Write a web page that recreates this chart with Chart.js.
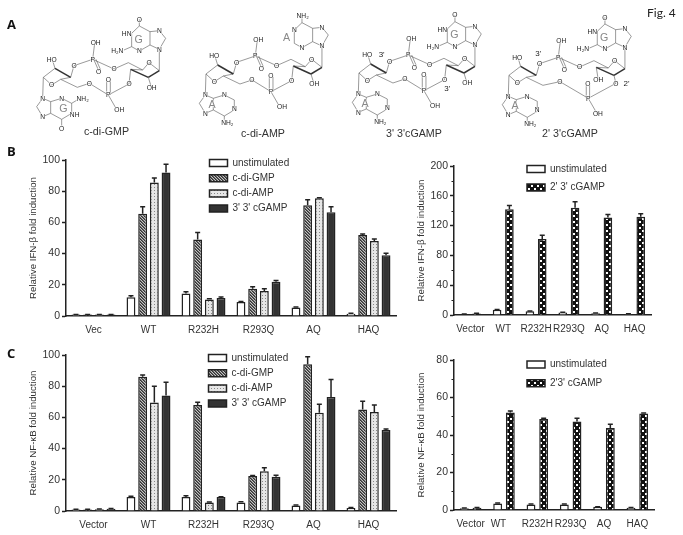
<!DOCTYPE html>
<html lang="en">

<head>
	<title>Fig. 4</title>
	<meta charset="utf-8">
	<script src="https://cdn.jsdelivr.net/npm/chart.js"></script>
	<style>
		html, body { margin: 0; background: #fff; }
		#page { position: relative; width: 683px; height: 535px; overflow: hidden; font-family: "Liberation Sans", sans-serif; filter: blur(0.3px); }
		#page canvas, #mols { position: absolute; }
		.tag { position: absolute; font: bold 13px "Open Sans", sans-serif; color: #111; }
	</style>
</head>

<body>
	<div id="page">
		<svg id="mols" width="683" height="140" style="left:0;top:0"></svg>
		<div class="tag" style="left:7px;top:15px">A</div>
		<div class="tag" style="left:7px;top:142px">B</div>
		<div class="tag" style="left:7px;top:344px">C</div>
		<div style="position:absolute;left:647px;top:5px;font:12px Lato,sans-serif;color:#222">Fig. 4</div>
		<canvas id="ifnLeft"></canvas>
		<canvas id="ifnRight"></canvas>
		<canvas id="nfLeft"></canvas>
		<canvas id="nfRight"></canvas>
	</div>

	<script type="text/javascript">
		const ifnCats = ["Vec", "WT", "R232H", "R293Q", "AQ", "HAQ"]
		const nfCats = ["Vector", "WT", "R232H", "R293Q", "AQ", "HAQ"]

		// panel B left
		const ifnUnstim = [0.9, 12, 14.5, 9, 5.5, 1.5]
		const ifnUnstimErr = [0.1, 1, 1, 0.3, 0.2, 0.2]
		const ifnGmp = [0.9, 65.5, 49, 17.5, 71, 52]
		const ifnGmpErr = [0.1, 4.5, 4.5, 1.2, 3.5, 0.5]
		const ifnAmp = [0.9, 85.5, 10.5, 16, 75.5, 48]
		const ifnAmpErr = [0.1, 3, 0.5, 1.5, 0.3, 1.3]
		const ifnGamp33 = [0.9, 92, 11.5, 22, 66.5, 39]
		const ifnGamp33Err = [0.1, 5.3, 0.7, 0.8, 3.5, 1.2]

		// panel B right
		const ifn2Unstim = [1, 7, 5, 3.5, 2.5, 1.5]
		const ifn2UnstimErr = [0.2, 0.5, 0.5, 0.3, 0.3, 0.2]
		const ifn2Gamp23 = [2, 142, 102, 144, 131, 132]
		const ifn2Gamp23Err = [0.3, 5, 5, 8, 4, 4]

		// panel C left
		const nfUnstim = [1, 9, 9, 5.5, 3.5, 2]
		const nfUnstimErr = [0.1, 0.4, 0.8, 0.4, 0.4, 0.3]
		const nfGmp = [1, 86, 68, 22.5, 94, 65]
		const nfGmpErr = [0.1, 1.2, 1.7, 0.3, 4.8, 5.3]
		const nfAmp = [1.2, 69.5, 5.5, 25.5, 63, 63.5]
		const nfAmpErr = [0.1, 10.5, 0.2, 2.3, 5.5, 4.5]
		const nfGamp33 = [1.5, 74, 9, 22, 73, 52]
		const nfGamp33Err = [0.1, 8.5, 0.1, 0.9, 11.3, 0.6]

		// panel C right
		const nf2Unstim = [1, 3.5, 3, 3, 1.7, 1.2]
		const nf2UnstimErr = [0.1, 0.2, 0.2, 0.2, 0.1, 0.1]
		const nf2Gamp23 = [1.2, 52, 48.5, 47.2, 43.8, 51.5]
		const nf2Gamp23Err = [0.1, 0.8, 0.4, 1.8, 2, 0.2]

		const ink = "#222"
		const textInk = "#333"

		Chart.defaults.font.family = "'Liberation Sans', Arial, sans-serif"

		function pattern(size, draw) {
			let c = document.createElement("canvas")
			c.width = size
			c.height = size
			draw(c.getContext("2d"))
			return c.getContext("2d").createPattern(c, "repeat")
		}

		const stripes = pattern(3, g => {
			g.fillStyle = "#c4c4c4"
			g.fillRect(0, 0, 3, 3)
			g.fillStyle = "#333"
			for (let i = 0; i < 3; i++) g.fillRect(i, i, 1, 1)
			g.fillStyle = "#666"
			for (let i = 0; i < 3; i++) g.fillRect((i + 1) % 3, i, 1, 1)
		})
		const dots = pattern(3, g => {
			g.fillStyle = "#e6e6e6"
			g.fillRect(0, 0, 3, 3)
			g.fillStyle = "#888"
			g.fillRect(0, 0, 1, 1)
		})
		const checks = pattern(6, g => {
			g.fillStyle = "#111"
			g.fillRect(0, 0, 6, 6)
			g.fillStyle = "#fff"
			g.fillRect(1, 1, 2, 2)
			g.fillRect(4, 4, 2, 2)
		})

		function series(label, values, errors, fill) {
			return { label: label, data: values, errors: errors, backgroundColor: fill, borderColor: ink, borderWidth: 1.5 }
		}

		// error bars, up only, read through the y scale
		const errorBars = {
			id: "errorBars",
			afterDatasetsDraw(chart) {
				let g = chart.ctx, y = chart.scales.y
				g.save()
				g.strokeStyle = ink
				g.lineWidth = 1.5
				chart.data.datasets.forEach((d, n) => {
					chart.getDatasetMeta(n).data.forEach((bar, i) => {
						let top = y.getPixelForValue(d.data[i] + d.errors[i])
						g.beginPath()
						g.moveTo(bar.x, bar.y)
						g.lineTo(bar.x, top)
						g.moveTo(bar.x - 2.5, top)
						g.lineTo(bar.x + 2.5, top)
						g.stroke()
					})
				})
				g.restore()
			}
		}

		const minorTicks = {
			id: "minorTicks",
			afterDraw(chart, args, opts) {
				if (!opts.step) return
				let g = chart.ctx, y = chart.scales.y
				g.save()
				g.strokeStyle = ink
				g.lineWidth = 1
				for (let v = opts.step; v < y.max; v += opts.step * 2) {
					let p = Math.round(y.getPixelForValue(v)) + 0.5
					g.beginPath()
					g.moveTo(y.right - 2.5, p)
					g.lineTo(y.right, p)
					g.stroke()
				}
				g.restore()
			}
		}

		// the legend sits where the figure has it, not where chart.js wants it
		const legendSpot = {
			id: "legendSpot",
			afterLayout(chart, args, opts) {
				let l = chart.legend, h = l.bottom - l.top
				l.left = opts.x
				l.top = opts.y
				l.bottom = opts.y + h
			}
		}

		function panel(id, p) {
			let canvas = document.getElementById(id)
			let pad = 32 + 6, left = p.plot[0] - pad, top = p.plot[1] - 12
			let width = p.plot[2] - left + 6, height = p.plot[3] - top + 24
			canvas.width = width
			canvas.height = height
			canvas.style.left = left + "px"
			canvas.style.top = top + "px"
			let cats = p.cats
			return new Chart(canvas, {
				type: "bar",
				data: { labels: cats, datasets: p.datasets },
				options: {
					responsive: false,
					animation: false,
					events: [],
					layout: { padding: { top: 12, right: 6, left: 0, bottom: 0 } },
					datasets: { bar: { categoryPercentage: p.cat, barPercentage: p.bar } },
					plugins: {
						title: { display: false },
						tooltip: { enabled: false },
						minorTicks: { step: p.minor },
						legendSpot: { x: p.legend[0] - p.gap - left, y: p.legend[1] - p.gap - 5 - top },
						legend: {
							position: "chartArea",
							align: "start",
							labels: { boxWidth: 18, boxHeight: 7, padding: p.gap, color: textInk, font: { size: 10 } }
						}
					},
					scales: {
						x: {
							grid: { display: false, drawTicks: false },
							border: { color: ink, width: 1.5 },
							ticks: {
								color: textInk,
								font: { size: 10 },
								padding: 8.5,
								autoSkip: false,
								maxRotation: 0,
								callback: (v, i) => cats[i] + (p.tickPad && p.tickPad[i] ? p.tickPad[i] : "")
							},
							afterFit: s => { s.height = 24 }
						},
						y: {
							min: 0,
							max: p.max,
							grid: { drawOnChartArea: false, tickLength: 4, tickWidth: 1.5, tickColor: ink },
							border: { color: ink, width: 1.5 },
							ticks: { stepSize: p.step, color: textInk, font: { size: 10.5 }, padding: 2 },
							title: { display: true, text: p.title, color: textInk, font: { size: 9.7 }, padding: 0 },
							afterFit: s => { s.width = pad }
						}
					}
				},
				plugins: [errorBars, minorTicks, legendSpot]
			})
		}

		panel("ifnLeft", {
			cats: ifnCats, plot: [65.5, 160, 395.5, 316.5], max: 100, step: 20, cat: 0.85, bar: 0.76,
			title: "Relative IFN-β fold induction", legend: [209, 163], gap: 5.2,
			datasets: [
				series("unstimulated", ifnUnstim, ifnUnstimErr, "#fff"),
				series("c-di-GMP", ifnGmp, ifnGmpErr, stripes),
				series("c-di-AMP", ifnAmp, ifnAmpErr, dots),
				series("3' 3' cGAMP", ifnGamp33, ifnGamp33Err, "#333")
			]
		})
		panel("ifnRight", {
			cats: nfCats, plot: [454, 166, 651, 315.5], max: 200, step: 40, minor: 20, cat: 0.75, bar: 0.7,
			title: "Relative IFN-β fold induction", legend: [527, 169], gap: 8.4,
			datasets: [
				series("unstimulated", ifn2Unstim, ifn2UnstimErr, "#fff"),
				series("2' 3' cGAMP", ifn2Gamp23, ifn2Gamp23Err, checks)
			]
		})
		panel("nfLeft", {
			cats: nfCats, plot: [65.5, 355, 395.5, 511.5], max: 100, step: 20, cat: 0.85, bar: 0.76,
			title: "Relative NF-κB fold induction", legend: [208, 358], gap: 5.2,
			datasets: [
				series("unstimulated", nfUnstim, nfUnstimErr, "#fff"),
				series("c-di-GMP", nfGmp, nfGmpErr, stripes),
				series("c-di-AMP", nfAmp, nfAmpErr, dots),
				series("3' 3' cGAMP", nfGamp33, nfGamp33Err, "#333")
			]
		})
		panel("nfRight", {
			cats: nfCats, plot: [454, 359.5, 654, 510], max: 80, step: 20, minor: 10, cat: 0.76, bar: 0.7,
			title: "Relative NF-κB fold induction", legend: [527, 364], gap: 8.7, tickPad: { 1: "    " },
			datasets: [
				series("unstimulated", nf2Unstim, nf2UnstimErr, "#fff"),
				series("2'3' cGAMP", nf2Gamp23, nf2Gamp23Err, checks)
			]
		})

		// panel A, the four structures. Drawn in the 3x coordinates of the c-di-GMP drawing
		const hexTop = [[450, 95], [418, 78], [395, 100], [395, 140], [418, 153], [450, 135], [450, 95]]
		const fiveTop = [[450, 135], [478, 148], [497, 115], [478, 92], [450, 95]]
		const hexLow = [[152, 305], [185, 295], [215, 310], [215, 340], [185, 358], [152, 340], [152, 305]]
		const fiveLow = [[152, 305], [128, 295], [110, 320], [128, 350], [152, 340]]
		const sugars = [
			[[130, 232], [165, 205]], [[212, 232], [182, 238]], [[182, 238], [155, 255], [130, 232]], [[165, 205], [158, 182]],
			[[212, 232], [222, 197], [278, 178]], [[278, 178], [284, 130]], [[278, 178], [342, 207], [385, 188], [428, 210]],
			[[392, 208], [428, 210], [447, 188], [478, 212]], [[182, 238], [232, 262]],
			[[130, 232], [128, 295]], [[478, 212], [478, 148]]
		]
		const thick = [[[165, 205], [212, 232]], [[392, 208], [445, 232]], [[445, 232], [478, 212]]]
		const ringLabels = [["HO", 155, 178], ["O", 155, 255], ["O", 222, 197], ["P", 278, 178], ["OH", 287, 128], ["O", 342, 207], ["O", 447, 188], ["O", 296, 215]]

		function drawMol(m) {
			let out = ""
			let line = (pts, w, col) => {
				out += `<polyline fill="none" stroke="${col || "#555"}" stroke-width="${w || 1.8}" points="${pts.map(p => p.join(",")).join(" ")}"/>`
			}
			let text = (t, x, y, size, col) => {
				out += `<text x="${x}" y="${y}" font-size="${size || 20}" fill="${col || "#222"}" text-anchor="middle" dominant-baseline="central" stroke="#fff" stroke-width="3" paint-order="stroke">${t}</text>`
			}
			sugars.forEach(b => line(b))
			thick.forEach(b => line(b, 4.5, "#333"))
			line([[282, 180], [296, 212]])
			line([[288, 178], [302, 210]])
			if (m.wide) {
				// 2' 3' keeps its lower phosphate further out
				line([[232, 262], [283, 251], [368, 301]])
				line([[445, 232], [451, 256], [368, 301]])
				line([[392, 208], [398, 246]])
				line([[368, 301], [395, 348]])
				line([[362, 260], [362, 298]])
				line([[372, 260], [372, 298]])
				ringLabels.forEach(l => text(l[0], l[1], l[2]))
				text("O", 283, 251); text("O", 451, 256); text("OH", 398, 246); text("P", 368, 301); text("O", 367, 258); text("OH", 397, 348)
			} else {
				line([[232, 262], [268, 250], [325, 285]])
				line([[392, 208], [387, 252], [325, 285]])
				line([[445, 232], [453, 258]])
				line([[325, 285], [348, 325]])
				line([[320, 240], [320, 285]])
				line([[331, 240], [331, 285]])
				ringLabels.forEach(l => text(l[0], l[1], l[2]))
				text("O", 268, 250); text("O", 387, 252); text("OH", 455, 262); text("P", 325, 285); text("O", 325, 238); text("OH", 358, 330)
			}
			;[hexTop, fiveTop, hexLow, fiveLow].forEach(r => line(r))
			text("N", 128, 295); text("N", 128, 350); text("N", 185, 295)
			text("N", 478, 148); text("N", 478, 92)
			text("N", 418, 153)
			if (m.top == "G") {
				line([[418, 78], [418, 58]]); line([[395, 140], [372, 150]])
				text("O", 418, 58); text("HN", 380, 102); text("H₂N", 352, 152)
				text("G", 416, 116, 32, "#888")
			} else {
				line([[418, 78], [418, 62]])
				text("NH₂", 420, 58); text("N", 395, 100)
				text("A", m.topA ? 372 : 416, m.topA ? 120 : 116, 32, "#888")
			}
			if (m.low == "G") {
				line([[215, 310], [235, 298]]); line([[185, 358], [185, 380]])
				text("NH₂", 248, 295); text("NH", 224, 343); text("O", 185, 385)
				text("G", 190, 325, 32, "#888")
			} else {
				line([[185, 358], [185, 372]])
				text("N", 215, 335); text("NH₂", 194, 378)
				text("A", 148, 322, 32, "#888")
			}
			;(m.marks || []).forEach(l => text(l[0], l[1], l[2], 24, "#222"))
			return `<g transform="translate(${m.dx},${m.dy})">${out}</g>`
		}

		const molecules = [
			{ dx: 0, dy: 0, top: "G", low: "G" },
			{ dx: 488, dy: -10, top: "A", low: "A", topA: true },
			{ dx: 947, dy: -13, top: "G", low: "A", marks: [["3'", 198, 178], ["3'", 395, 278]] },
			{ dx: 1397, dy: -6, top: "G", low: "A", wide: true, marks: [["3'", 218, 166], ["2'", 483, 256]] }
		]
		const molNames = [["c-di-GMP", 106.5, 131], ["c-di-AMP", 263, 133], ["3' 3'cGAMP", 414, 133], ["2' 3'cGAMP", 570, 133]]

		document.getElementById("mols").innerHTML =
			`<g transform="scale(0.3333)" font-family="Liberation Sans">${molecules.map(drawMol).join("")}</g>` +
			molNames.map(n => `<text x="${n[1]}" y="${n[2]}" font-family="Liberation Sans" font-size="10.7" fill="#333" text-anchor="middle" dominant-baseline="central">${n[0]}</text>`).join("")
	</script>
</body>

</html>
